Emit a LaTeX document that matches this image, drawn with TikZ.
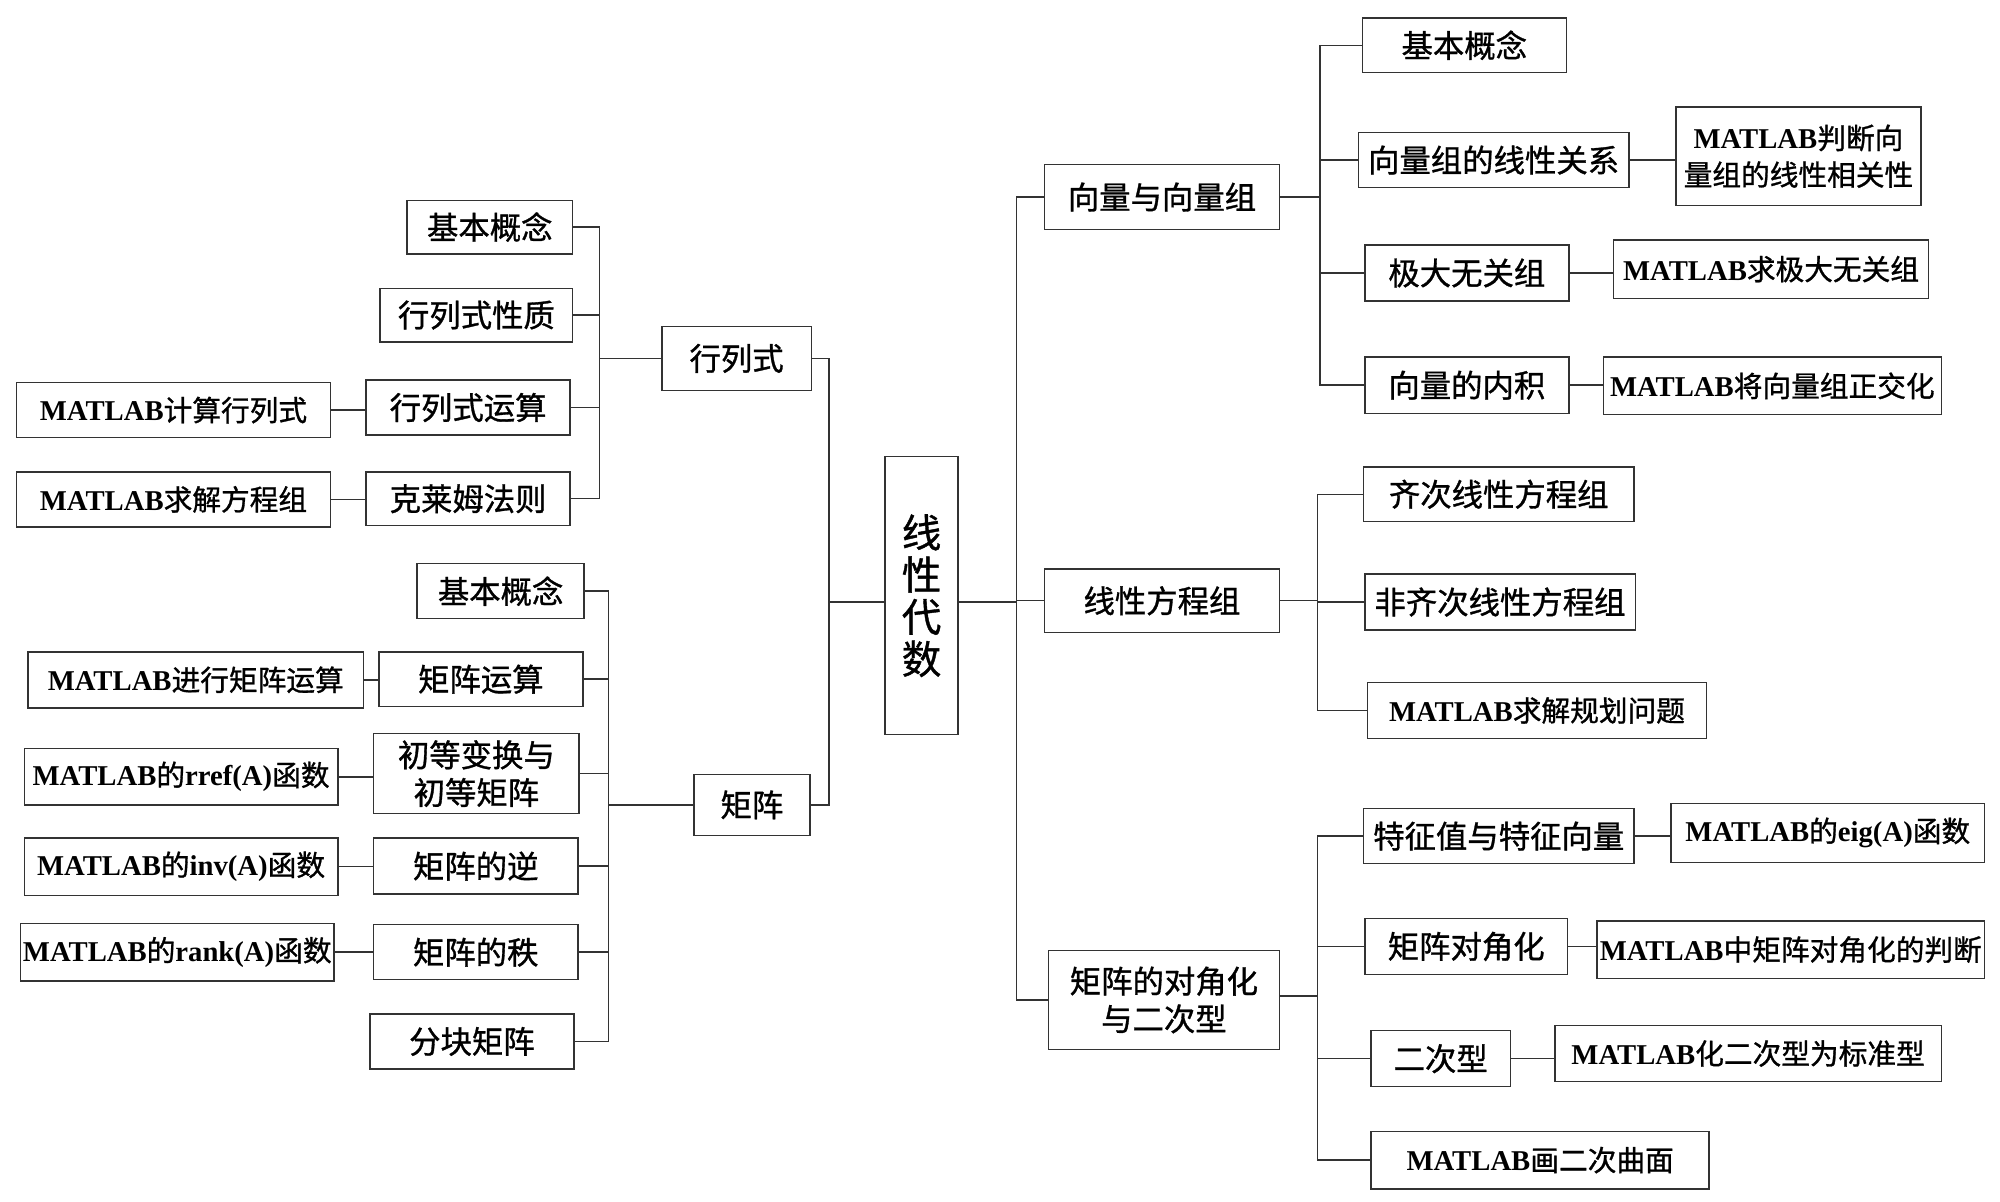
\documentclass[tikz,border=0pt]{standalone}
\usepackage{fontspec}
\setmainfont{Liberation Serif}
\newfontfamily\cjk[FakeBold=1]{Noto Sans CJK SC}
\newcommand{\lat}[1]{{\rmfamily\bfseries #1}}

\begin{document}
\begin{tikzpicture}[
  x=0.25mm, y=-0.25mm,
  box/.style={draw=black!80, line width=0.8pt, inner sep=0pt, align=center,
    font=\fontsize{17.5}{21}\selectfont\cjk},
  mbox/.style={box, font=\fontsize{16}{20.5}\selectfont\cjk},
  sz/.style 2 args={minimum width=#1*0.25mm, minimum height=#2*0.25mm},
  link/.style={draw=black!80, line width=0.8pt}
]

\useasboundingbox (0,0) rectangle (1568,941.6);

\node [box, sz={57}{218}, font=\fontsize{22}{23.5}\selectfont\cjk] (root) at (722.5,467) {线\\性\\代\\数};

\node [box, sz={117}{50}] (det) at (577.5,281) {行列式};
\node [box, sz={130}{42}] (det1) at (384,178) {基本概念};
\node [box, sz={151}{42}] (det2) at (373.5,247) {行列式性质};
\node [box, sz={160}{43}] (det3) at (367,319.5) {行列式运算};
\node [mbox, sz={246}{43}] (det3m) at (136,321.5) {\lat{MATLAB}计算行列式};
\node [box, sz={160}{42}] (det4) at (367,391) {克莱姆法则};
\node [mbox, sz={246}{43}] (det4m) at (136,391.5) {\lat{MATLAB}求解方程组};

\node [box, sz={91}{48}] (mat) at (589.5,631) {矩阵};
\node [box, sz={131}{43}] (mat1) at (392.5,463.5) {基本概念};
\node [box, sz={160}{43}] (mat2) at (377,532.5) {矩阵运算};
\node [mbox, sz={263}{44}] (mat2m) at (153.5,533) {\lat{MATLAB}进行矩阵运算};
\node [box, sz={161}{63}] (mat3) at (373.5,606.5) {初等变换与\\初等矩阵};
\node [mbox, sz={246}{44}] (mat3m) at (142,609) {\lat{MATLAB}的\lat{rref(A)}函数};
\node [box, sz={160}{44}] (mat4) at (373,679) {矩阵的逆};
\node [mbox, sz={246}{45}] (mat4m) at (142,679.5) {\lat{MATLAB}的\lat{inv(A)}函数};
\node [box, sz={160}{43}] (mat5) at (373,746.5) {矩阵的秩};
\node [mbox, sz={246}{45}] (mat5m) at (139,746.5) {\lat{MATLAB}的\lat{rank(A)}函数};
\node [box, sz={160}{43}] (mat6) at (370,816.5) {分块矩阵};

\node [box, sz={184}{51}] (vec) at (911,154.5) {向量与向量组};
\node [box, sz={160}{43}] (vec1) at (1148,35.5) {基本概念};
\node [box, sz={212}{43}] (vec2) at (1171,125.5) {向量组的线性关系};
\node [mbox, sz={192}{77}] (vec2m) at (1410,122.5) {\lat{MATLAB}判断向\\量组的线性相关性};
\node [box, sz={160}{44}] (vec3) at (1150,214) {极大无关组};
\node [mbox, sz={247}{46}] (vec3m) at (1388.5,211) {\lat{MATLAB}求极大无关组};
\node [box, sz={160}{44}] (vec4) at (1150,302) {向量的内积};
\node [mbox, sz={265}{45}] (vec4m) at (1389.5,302.5) {\lat{MATLAB}将向量组正交化};

\node [box, sz={184}{50}] (equ) at (911,471) {线性方程组};
\node [box, sz={212}{43}] (equ1) at (1175,387.5) {齐次线性方程组};
\node [box, sz={212}{44}] (equ2) at (1176,472) {非齐次线性方程组};
\node [mbox, sz={266}{44}] (equ3) at (1205,557) {\lat{MATLAB}求解规划问题};

\node [box, sz={181}{78}] (diag) at (912.5,784) {矩阵的对角化\\与二次型};
\node [box, sz={212}{43}] (diag1) at (1175,655.5) {特征值与特征向量};
\node [mbox, sz={246}{46}] (diag1m) at (1433,653) {\lat{MATLAB}的\lat{eig(A)}函数};
\node [box, sz={159}{44}] (diag2) at (1149.5,742) {矩阵对角化};
\node [mbox, sz={304}{45}] (diag2m) at (1404,744.5) {\lat{MATLAB}中矩阵对角化的判断};
\node [box, sz={109}{44}] (diag3) at (1129.5,830) {二次型};
\node [mbox, sz={303}{44}] (diag3m) at (1370.5,826) {\lat{MATLAB}化二次型为标准型};
\node [mbox, sz={265}{45}] (diag4) at (1207.5,909.5) {\lat{MATLAB}画二次曲面};

\coordinate (lbus) at (650,472);
\coordinate (rbus) at (797,472);
\coordinate (detbus) at (470,281);
\coordinate (matbus) at (477,631);
\coordinate (vecbus) at (1035,154.5);
\coordinate (equbus) at (1033,471);
\coordinate (diagbus) at (1033,781);

\draw [link] (lbus -| root.west) -- (lbus) |- (det.east);
\draw [link] (lbus) |- (mat.east);
\draw [link] (rbus -| root.east) -- (rbus) |- (vec.west);
\draw [link] (rbus) |- (equ.west);
\draw [link] (rbus) |- (diag.west);

\draw [link] (det.west) -- (detbus) |- (det1.east);
\draw [link] (detbus) |- (det2.east);
\draw [link] (detbus) |- (det3.east);
\draw [link] (detbus) |- (det4.east);
\draw [link] (det3m.east) -- (det3m.east -| det3.west);
\draw [link] (det4m.east) -- (det4m.east -| det4.west);

\draw [link] (mat.west) -- (matbus) |- (mat1.east);
\draw [link] (matbus) |- (mat2.east);
\draw [link] (matbus) |- (mat3.east);
\draw [link] (matbus) |- (mat4.east);
\draw [link] (matbus) |- (mat5.east);
\draw [link] (matbus) |- (mat6.east);
\draw [link] (mat2m.east) -- (mat2m.east -| mat2.west);
\draw [link] (mat3m.east) -- (mat3m.east -| mat3.west);
\draw [link] (mat4m.east) -- (mat4m.east -| mat4.west);
\draw [link] (mat5m.east) -- (mat5m.east -| mat5.west);

\draw [link] (vec.east) -- (vecbus) |- (vec1.west);
\draw [link] (vecbus) |- (vec2.west);
\draw [link] (vecbus) |- (vec3.west);
\draw [link] (vecbus) |- (vec4.west);
\draw [link] (vec2.east) -- (vec2.east -| vec2m.west);
\draw [link] (vec3.east) -- (vec3.east -| vec3m.west);
\draw [link] (vec4.east) -- (vec4.east -| vec4m.west);

\draw [link] (equ.east) -- (equbus) |- (equ1.west);
\draw [link] (equbus) |- (equ2.west);
\draw [link] (equbus) |- (equ3.west);

\draw [link] (diagbus -| diag.east) -- (diagbus) |- (diag1.west);
\draw [link] (diagbus) |- (diag2.west);
\draw [link] (diagbus) |- (diag3.west);
\draw [link] (diagbus) |- (diag4.west);
\draw [link] (diag1.east) -- (diag1.east -| diag1m.west);
\draw [link] (diag2.east) -- (diag2.east -| diag2m.west);
\draw [link] (diag3.east) -- (diag3.east -| diag3m.west);

\end{tikzpicture}
\end{document}
